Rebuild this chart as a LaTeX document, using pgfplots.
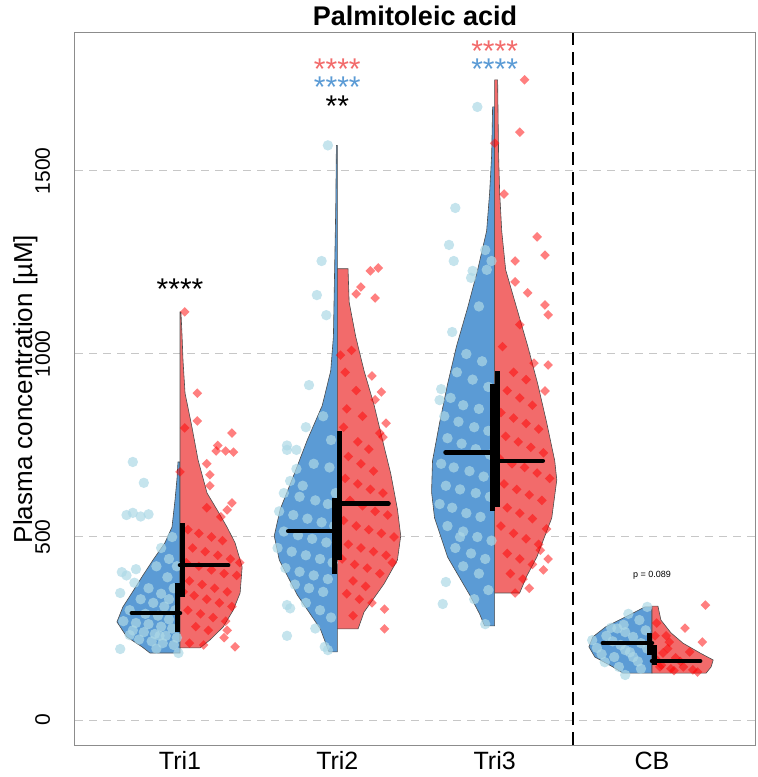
\documentclass[border=0pt]{standalone}
\usepackage{fontspec}
\setmainfont{Liberation Sans}
\usepackage{pgfplots}
\pgfplotsset{compat=1.18}
\definecolor{vblue}{HTML}{5B9BD5}
\definecolor{vred}{HTML}{F26B6B}
\definecolor{ptblue}{HTML}{ADD8E6}
\begin{document}
\begin{tikzpicture}
\useasboundingbox (-37.5pt,-16pt) rectangle (341pt,372.5pt);
\begin{axis}[
    at={(0,0)}, anchor=south west,
    scale only axis, width=340pt, height=356pt,
    xmin=0.3325, xmax=4.655, ymin=-68.3, ymax=1877,
    xtick={1,2,3,4}, xticklabels={Tri1,Tri2,Tri3,CB},
    ytick={0,500,1000,1500},
    major tick length=0pt,
    /pgf/number format/1000 sep={},
    /pgf/number format/assume math mode=true,
    xticklabel style={font=\fontsize{12.5}{14}\selectfont, anchor=base},
    xticklabel shift=12.5pt,
    yticklabel style={font=\fontsize{10.5}{12}\selectfont, rotate=90, anchor=base},
    yticklabel shift=12.5pt,
    ymajorgrids, grid style={black!22, dash pattern=on 4pt off 3pt, line width=0.5pt},
    axis line style={black!45, line width=0.5pt},
    ylabel={Plasma concentration [µM]},
    ylabel style={font=\fontsize{13}{15}\selectfont, at={(axis description cs:-0.0632,0.5)}, anchor=base},
    title={Palmitoleic acid},
    every axis title shift=0pt,
    title style={font=\fontsize{13.5}{16}\selectfont\bfseries, at={(axis description cs:0.5,1)}, anchor=base, yshift=3.5pt},
    clip=false,
    clip marker paths=true,
]
% group separator
\addplot[black, line width=1pt, dash pattern=on 6.5pt off 3.5pt] coordinates {(3.5,-68.3) (3.5,1877)};

% half violins (outline: x = centre -/+ half width)
\addplot[fill=vblue, draw=black!70, line width=0.3pt] coordinates {
(1,705) (0.987,705) (0.981,660) (0.968,600) (0.949,527) (0.904,484) (0.828,437) (0.758,391)
(0.694,347) (0.637,309) (0.599,268) (0.662,227) (0.758,200) (0.809,183) (1,183)} --cycle;
\addplot[fill=vred, draw=black!70, line width=0.3pt] coordinates {
(1,1115) (1.006,1115) (1.013,1050) (1.019,983) (1.032,893) (1.076,800) (1.115,710) (1.172,620)
(1.236,574) (1.299,527) (1.350,484) (1.395,418) (1.382,347) (1.338,300) (1.274,254) (1.191,219)
(1.127,197) (1,197)} --cycle;

\addplot[fill=vblue, draw=black!70, line width=0.3pt] coordinates {
(2,1570) (1.994,1570) (1.990,1400) (1.983,1236) (1.975,1047) (1.958,954) (1.904,859) (1.809,765)
(1.726,672) (1.637,576) (1.599,503) (1.631,437) (1.745,342) (1.892,249) (1.947,186) (2,186)} --cycle;
\addplot[fill=vred, draw=black!70, line width=0.3pt] coordinates {
(2,1233) (2.068,1233) (2.075,1142) (2.117,1047) (2.170,954) (2.234,860) (2.287,765) (2.340,672)
(2.382,576) (2.403,503) (2.382,437) (2.297,372) (2.170,295) (2.132,249) (2,249)} --cycle;

\addplot[fill=vblue, draw=black!70, line width=0.3pt] coordinates {
(3,1675) (2.987,1675) (2.981,1544) (2.968,1440) (2.949,1336) (2.892,1230) (2.828,1126) (2.758,1022)
(2.701,918) (2.650,812) (2.605,708) (2.599,623) (2.618,552) (2.701,445) (2.841,342) (2.904,290)
(2.936,257) (3,257)} --cycle;
\addplot[fill=vred, draw=black!70, line width=0.3pt] coordinates {
(3,1749) (3.019,1749) (3.025,1544) (3.032,1440) (3.045,1336) (3.070,1230) (3.140,1126) (3.210,1022)
(3.274,918) (3.331,812) (3.382,708) (3.395,656) (3.363,552) (3.268,445) (3.204,393) (3.159,347)
(3,347)} --cycle;

\addplot[fill=vblue, draw=black!70, line width=0.3pt] coordinates {
(4,309) (3.955,309) (3.879,292) (3.707,255) (3.624,227) (3.599,200) (3.637,172) (3.752,145)
(3.815,128) (4,128)} --cycle;
\addplot[fill=vred, draw=black!70, line width=0.3pt] coordinates {
(4,311) (4.038,311) (4.057,273) (4.121,238) (4.197,210) (4.306,183) (4.389,164) (4.376,145)
(4.344,128) (4,128)} --cycle;

% individual values, left group
\addplot[only marks, mark=*, mark size=2.6pt, mark options={draw opacity=0, fill=ptblue, fill opacity=0.7, line width=0pt}] coordinates {
(0.70,705)(0.77,648)(0.66,560)(0.70,566)(0.75,556)(0.80,562)(0.63,404)(0.66,395)(0.72,412)(0.62,347)
(0.71,375)(0.88,470)(0.93,440)(0.95,500)(0.85,420)(0.92,390)(0.80,360)(0.88,345)(0.96,360)(0.75,330)
(0.83,320)(0.90,310)(0.97,300)(0.68,300)(0.78,290)(0.86,285)(0.93,275)(0.64,270)(0.72,265)(0.80,262)
(0.88,255)(0.95,250)(0.70,245)(0.77,240)(0.84,235)(0.91,230)(0.98,225)(0.74,220)(0.82,215)(0.89,210)
(0.96,205)(0.62,194)(0.85,195)(0.99,183)(0.68,232)(0.93,330)(0.98,420)(0.87,230)
(1.94,1570)(1.90,1254)(1.87,1161)(1.93,1106)(1.82,915)(1.91,830)(1.80,800)(1.68,750)(1.68,738)(1.74,738)
(1.96,765)(1.74,686)(1.70,653)(1.85,700)(1.95,690)(1.66,620)(1.76,610)(1.86,600)(1.94,590)(1.63,570)
(1.72,560)(1.81,550)(1.90,540)(1.98,530)(1.66,515)(1.75,505)(1.84,495)(1.93,485)(1.62,470)(1.71,460)
(1.80,450)(1.89,440)(1.97,430)(1.67,415)(1.76,405)(1.85,395)(1.94,385)(1.73,370)(1.82,360)(1.91,350)
(1.68,314)(1.70,305)(1.80,320)(1.89,300)(1.96,280)(1.68,230)(1.92,200)(1.94,191)(1.86,250)(1.78,640)(1.99,620)
(2.89,1675)(2.75,1399)(2.71,1298)(2.74,1254)(2.94,1284)(2.95,1230)(2.86,1227)(2.85,1208)(2.98,1254)(2.73,1060)
(2.66,904)(2.65,874)(2.69,377)(2.67,317)(2.94,262)(2.90,1130)(2.82,1000)(2.92,980)(2.76,950)(2.86,930)
(2.96,910)(2.72,880)(2.80,860)(2.90,850)(2.68,830)(2.77,815)(2.87,800)(2.96,790)(2.70,770)(2.79,755)
(2.88,740)(2.97,725)(2.66,700)(2.74,690)(2.84,680)(2.93,665)(2.69,640)(2.78,630)(2.88,620)(2.97,610)
(2.65,590)(2.73,580)(2.82,565)(2.91,555)(2.70,530)(2.80,515)(2.89,500)(2.98,490)(2.75,470)(2.85,455)
(2.94,440)(2.80,420)(2.90,400)(2.96,355)(2.87,330)(2.78,500)
(3.97,309)(3.92,273)(3.82,260)(3.83,240)(3.74,252)(3.78,250)(3.88,227)(3.62,218)(3.80,205)(3.83,191)
(3.70,158)(3.88,172)(3.83,123)(3.65,197)(3.76,172)(3.93,210)(3.71,230)(3.86,185)(3.96,245)(3.68,180)
(3.91,160)(3.97,195)(3.75,215)(3.85,290)(3.93,140)(3.79,145)};

% individual values, right group
\addplot[only marks, mark=square*, mark size=1.7pt, mark options={rotate=45, draw opacity=0, fill=red, fill opacity=0.5, line width=0pt}] coordinates {
(1.03,1115)(1.11,893)(1.11,817)(1.03,798)(1.33,784)(1.24,750)(1.23,735)(1.29,735)(1.34,732)(1.17,700)
(1.00,678)(1.19,670)(1.19,640)(1.33,593)(1.30,574)(1.26,555)(1.17,580)(1.05,520)(1.12,510)(1.20,500)
(1.27,490)(1.08,470)(1.16,460)(1.24,450)(1.32,440)(1.04,430)(1.12,420)(1.20,410)(1.28,400)(1.36,395)
(1.06,380)(1.14,370)(1.22,360)(1.30,350)(1.09,340)(1.17,330)(1.25,320)(1.33,310)(1.05,300)(1.13,290)
(1.21,280)(1.29,270)(1.10,255)(1.18,245)(1.30,245)(1.28,225)(1.35,200)(1.06,210)(1.15,205)(1.02,350)(1.38,430)
(2.21,1227)(2.26,1235)(2.12,1164)(2.15,1183)(2.24,1153)(2.09,1010)(2.02,997)(2.22,940)(2.28,896)(2.24,875)
(2.31,811)(2.29,773)(2.27,784)(2.05,950)(2.12,900)(2.06,850)(2.16,830)(2.04,800)(2.13,760)(2.20,740)
(2.07,720)(2.15,700)(2.23,680)(2.05,660)(2.13,645)(2.21,630)(2.29,620)(2.08,600)(2.16,585)(2.24,570)
(2.32,560)(2.04,545)(2.12,530)(2.20,520)(2.28,510)(2.36,500)(2.07,480)(2.15,470)(2.23,460)(2.31,450)
(2.03,440)(2.11,425)(2.19,415)(2.27,400)(2.10,380)(2.18,365)(2.06,345)(2.14,330)(2.22,320)(2.30,303)
(2.30,249)(2.10,285)(2.35,430)
(3.19,1749)(3.16,1606)(3.00,1576)(3.06,1437)(3.27,1320)(3.32,1270)(3.13,1254)(3.13,1197)(3.21,1167)(3.32,1134)
(3.34,1107)(3.16,1080)(3.34,970)(3.25,975)(3.32,899)(3.05,1020)(3.12,950)(3.20,930)(3.08,900)(3.16,880)
(3.24,860)(3.04,840)(3.12,825)(3.20,810)(3.28,795)(3.07,775)(3.15,760)(3.23,745)(3.31,730)(3.03,715)
(3.11,700)(3.19,690)(3.27,675)(3.35,660)(3.06,645)(3.14,630)(3.22,615)(3.30,600)(3.08,580)(3.16,565)
(3.24,550)(3.33,522)(3.04,530)(3.12,510)(3.20,495)(3.28,480)(3.29,464)(3.34,440)(3.31,410)(3.08,455)
(3.16,440)(3.24,425)(3.10,400)(3.18,385)(3.13,347)(3.22,360)
(4.34,314)(4.21,251)(4.32,213)(4.11,213)(4.03,265)(4.24,186)(4.29,131)(4.05,145)(4.12,140)(4.20,145)
(4.26,137)(4.03,164)(4.07,183)(4.15,170)(4.10,195)(4.18,160)(4.02,230)(4.06,150)(4.14,135)(4.09,230)};

% interquartile ranges
\pgfplotsset{iqr/.style={black, line width=2.5pt},
             med/.style={black, line width=2.3pt, line cap=round}}
\addplot[iqr] coordinates {(0.984,240) (0.984,374)};
\addplot[iqr] coordinates {(1.016,336) (1.016,538)};
\addplot[iqr] coordinates {(1.984,398) (1.984,606)};
\addplot[iqr] coordinates {(2.016,437) (2.016,789)};
\addplot[iqr] coordinates {(2.984,571) (2.984,918)};
\addplot[iqr] coordinates {(3.016,582) (3.016,954)};
\addplot[iqr] coordinates {(3.984,178) (3.984,238)};
\addplot[iqr] coordinates {(4.016,150) (4.016,205)};
% medians
\addplot[med] coordinates {(0.694,292) (1,292)};
\addplot[med] coordinates {(1,423) (1.306,423)};
\addplot[med] coordinates {(1.688,516) (2,516)};
\addplot[med] coordinates {(2,591) (2.325,591)};
\addplot[med] coordinates {(2.688,731) (3,731)};
\addplot[med] coordinates {(3,708) (3.306,708)};
\addplot[med] coordinates {(3.688,210) (4,210)};
\addplot[med] coordinates {(4,161) (4.306,161)};

% significance labels
\node[font=\fontsize{15}{16}\selectfont, anchor=base] at (axis cs:1,1150) {****};
\node[font=\fontsize{15}{16}\selectfont, anchor=base, text=vred] at (axis cs:2,1751) {****};
\node[font=\fontsize{15}{16}\selectfont, anchor=base, text=vblue] at (axis cs:2,1702) {****};
\node[font=\fontsize{15}{16}\selectfont, anchor=base] at (axis cs:2,1650) {**};
\node[font=\fontsize{15}{16}\selectfont, anchor=base, text=vred] at (axis cs:3,1800) {****};
\node[font=\fontsize{15}{16}\selectfont, anchor=base, text=vblue] at (axis cs:3,1751) {****};
\node[font=\fontsize{4.5}{5}\selectfont, anchor=base] at (axis cs:4,388) {p = 0.089};
\end{axis}
\end{tikzpicture}
\end{document}
